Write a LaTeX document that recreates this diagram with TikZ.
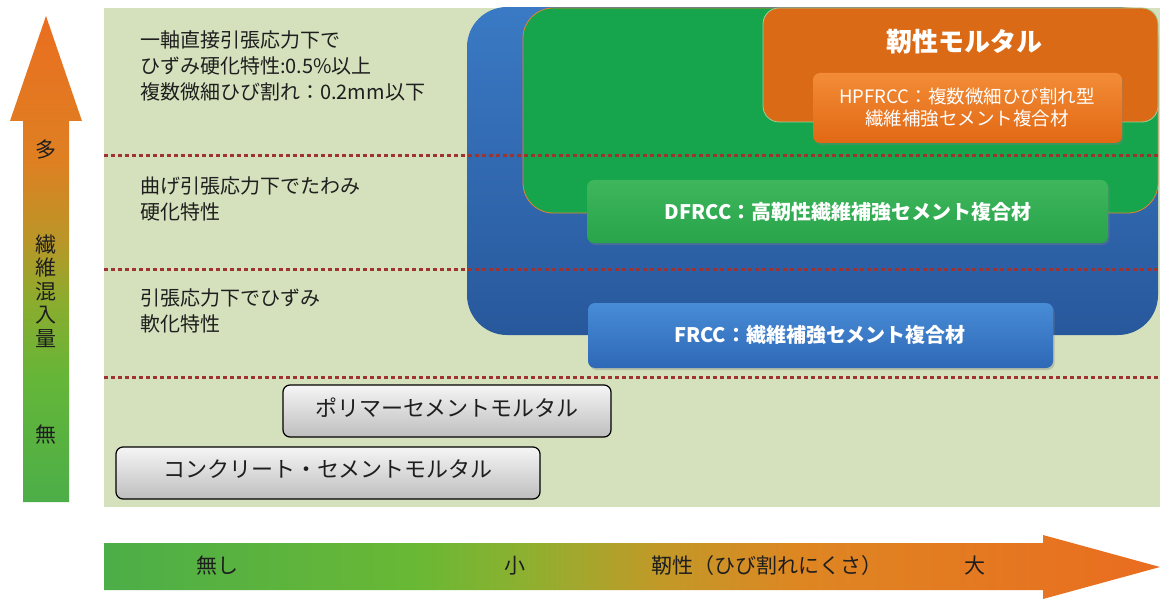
\documentclass[tikz,border=0pt]{standalone}
\usepackage{fontspec}
\setmainfont{Noto Sans CJK JP}
\usetikzlibrary{shadows}

\definecolor{panel}{RGB}{213,225,189}
\definecolor{dotred}{RGB}{158,52,48}
\definecolor{txt}{RGB}{30,30,30}
\definecolor{bluetop}{RGB}{58,122,196}
\definecolor{bluebot}{RGB}{40,88,156}
\definecolor{greenreg}{RGB}{22,164,76}
\definecolor{orangereg}{RGB}{218,106,22}
\definecolor{oborder}{RGB}{232,130,50}
\definecolor{hptop}{RGB}{243,140,55}
\definecolor{hpbot}{RGB}{226,104,20}
\definecolor{dftop}{RGB}{62,182,92}
\definecolor{dfbot}{RGB}{40,164,74}
\definecolor{frtop}{RGB}{72,140,214}
\definecolor{frbot}{RGB}{46,104,182}
\definecolor{graytop}{RGB}{245,245,245}
\definecolor{graybot}{RGB}{190,190,190}

\definecolor{g0}{RGB}{76,174,72}
\definecolor{g1}{RGB}{100,182,56}
\definecolor{g2}{RGB}{140,172,46}
\definecolor{g3}{RGB}{186,150,40}
\definecolor{g4}{RGB}{222,128,34}
\definecolor{g5}{RGB}{234,110,32}

\definecolor{h1}{RGB}{106,184,52}
\definecolor{h2}{RGB}{142,176,48}
\definecolor{h3}{RGB}{192,154,40}
\definecolor{h4}{RGB}{222,134,34}
\definecolor{h5}{RGB}{234,108,32}

\pgfdeclareverticalshading{vfiber}{100bp}{color(0bp)=(g0); color(25bp)=(g0); color(37.5bp)=(g1); color(45.8bp)=(g2); color(52bp)=(g3); color(60bp)=(g4); color(75bp)=(g5); color(100bp)=(g5)}
\pgfdeclarehorizontalshading{htough}{100bp}{color(0bp)=(g0); color(25bp)=(g0); color(40bp)=(h1); color(45bp)=(h2); color(51bp)=(h3); color(58bp)=(h4); color(75bp)=(h5); color(100bp)=(h5)}

\tikzset{
  dotline/.style={draw=dotred, line width=3pt, dash pattern=on 4pt off 3pt},
  lefttext/.style={anchor=west, align=left, text=txt, font=\fontsize{20}{26}\selectfont, inner sep=0pt},
  axistext/.style={text=txt, font=\fontsize{21}{24}\selectfont, inner sep=0pt},
  matbox/.style={rounded corners=7pt, draw=black, line width=1.2pt, top color=graytop, bottom color=graybot},
  labelbox/.style={rounded corners=7pt, drop shadow={shadow xshift=1.5pt, shadow yshift=-2pt, opacity=0.35}},
  whitetext/.style={text=white, align=center, inner sep=0pt},
}

\begin{document}
\begin{tikzpicture}[x=1pt, y=-1pt]
\useasboundingbox (0,0) rectangle (1160,599);

% background panel
\fill[panel] (104,8) rectangle (1160,507);

% nested regions
\begin{scope}
\clip (104,8) rectangle (1160,507);
\path[top color=bluetop, bottom color=bluebot, rounded corners=40pt] (467,7) rectangle (1158,335);
\path[fill=greenreg, draw=oborder, line width=0.8pt, rounded corners=30pt] (523,8) -- (1158,8) -- (1158,213) -- (523,213) -- cycle;
\path[fill=orangereg, draw=panel!70!greenreg, line width=0.8pt, rounded corners=16pt] (763,8) -- (1158,8) -- (1158,122) -- (763,122) -- cycle;
\end{scope}

% dotted separators
\coordinate (d1a) at (104,156); \coordinate (d1b) at (1160,156);
\coordinate (d2a) at (104,269); \coordinate (d2b) at (1160,269);
\coordinate (d3a) at (104,377); \coordinate (d3b) at (1160,377);
\draw[dotline] (d1a) -- (d1b);
\draw[dotline] (d2a) -- (d2b);
\draw[dotline] (d3a) -- (d3b);

% region title
\node[whitetext, font=\fontsize{26}{30}\selectfont\bfseries] (tm) at (964,42) {靭性モルタル};

% label boxes
\path[labelbox, top color=hptop, bottom color=hpbot] (813,73) rectangle (1122,143);
\node[whitetext, font=\fontsize{18.5}{22}\selectfont] (hp) at (967,108) {HPFRCC：複数微細ひび割れ型\\繊維補強セメント複合材};

\path[labelbox, top color=dftop, bottom color=dfbot] (587,180) rectangle (1108,243);
\node[whitetext, font=\fontsize{20}{24}\selectfont\bfseries] (df) at (848,212) {DFRCC：高靭性繊維補強セメント複合材};

\path[labelbox, top color=frtop, bottom color=frbot] (588,303) rectangle (1053,368);
\node[whitetext, font=\fontsize{20}{24}\selectfont\bfseries] (fr) at (820,335) {FRCC：繊維補強セメント複合材};

% material boxes
\path[matbox] (283,385) rectangle (611,437);
\node[text=txt, font=\fontsize{22}{26}\selectfont, inner sep=0pt] (pm) at (447,408) {ポリマーセメントモルタル};
\path[matbox] (116,447) rectangle (540,499);
\node[text=txt, font=\fontsize{22}{26}\selectfont, inner sep=0pt] (cm) at (328,469) {コンクリート・セメントモルタル};

% left texts
\node[lefttext] (t1) at (140,66) {一軸直接引張応力下で\\ひずみ硬化特性:0.5\%以上\\複数微細ひび割れ：0.2mm以下};
\node[lefttext] (t2) at (140,199) {曲げ引張応力下でたわみ\\硬化特性};
\node[lefttext] (t3) at (140,311) {引張応力下でひずみ\\軟化特性};

% vertical arrow
\path[shading=vfiber] (23,502) -- (23,121) -- (10,121) -- (46,16) -- (82,121) -- (69,121) -- (69,502) -- cycle;
\node[axistext] (many) at (46,150) {多};
\node[axistext, align=center, font=\fontsize{21}{23.5}\selectfont] (fiber) at (46,291) {繊\\維\\混\\入\\量};
\node[axistext] (none) at (46,435) {無};

% horizontal arrow
\path[shading=htough] (104,543) -- (1043,543) -- (1043,535) -- (1160,567) -- (1043,599) -- (1043,590) -- (104,590) -- cycle;
\node[axistext] (nashi) at (217,566) {無し};
\node[axistext] (small) at (515,566) {小};
\node[axistext] (tough) at (767,566) {靭性（ひび割れにくさ）};
\node[axistext] (big) at (975,566) {大};
\end{tikzpicture}
\end{document}
